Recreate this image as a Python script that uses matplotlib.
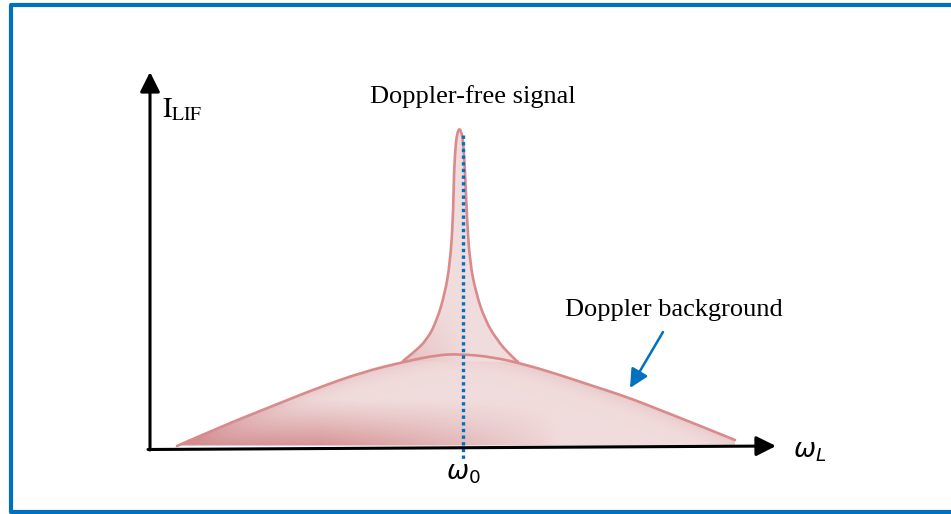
import numpy as np
import matplotlib.pyplot as plt
from matplotlib.patches import FancyArrowPatch, PathPatch
from matplotlib.path import Path
from matplotlib.lines import Line2D

# Doppler-broadened background (detuning from omega_0, LIF intensity, arb. units)
bg_detuning = [-2.84, -2.41, -1.91, -1.41, -0.98, -0.58, -0.24, -0.01,
               0.32, 0.66, 0.99, 1.32, 1.66, 1.99, 2.32, 2.74]
bg_intensity = [0.03, 0.22, 0.42, 0.62, 0.77, 0.87, 0.94, 0.95,
                0.92, 0.84, 0.74, 0.63, 0.52, 0.39, 0.26, 0.09]

# Doppler-free (saturated) peak sitting on top of the background
peak_detuning = [-0.58, -0.48, -0.34, -0.24, -0.16, -0.11, -0.08, -0.07, -0.05,
                 -0.035, -0.02, -0.005, 0.01, 0.02, 0.04, 0.06, 0.09, 0.15,
                 0.24, 0.36, 0.49, 0.57]
peak_intensity = [0.88, 0.96, 1.09, 1.29, 1.56, 1.86, 2.29, 2.79, 3.09,
                  3.16, 3.20, 3.19, 3.14, 3.09, 2.79, 2.29, 1.86, 1.56,
                  1.29, 1.09, 0.94, 0.87]

omega0 = 0.0
base_level = 0.035

title_text = "Doppler-free signal"
bg_text = "Doppler background"

plt.rcParams['font.family'] = ['Liberation Serif', 'DejaVu Serif']


def smooth_path(xs, ys, close_to=None):
    # quadratic bezier chain: inner points act as control points
    pts = np.column_stack([xs, ys])
    verts = [pts[0]]
    codes = [Path.MOVETO]
    for i in range(1, len(pts) - 1):
        end = pts[i + 1] if i == len(pts) - 2 else (pts[i] + pts[i + 1]) / 2
        verts += [pts[i], end]
        codes += [Path.CURVE3, Path.CURVE3]
    if close_to is not None:
        for p in close_to:
            verts.append(p)
            codes.append(Path.LINETO)
        verts.append(pts[0])
        codes.append(Path.CLOSEPOLY)
    return Path(verts, codes)


fig = plt.figure(figsize=(9.51, 5.14), dpi=100)
ax = fig.add_axes([0, 0, 1, 1])
ax.set_xlim(-4.61, 4.90)
ax.set_ylim(-0.65, 4.49)
ax.axis('off')

line_col = '#d98a8c'
light = np.array([0.945, 0.865, 0.865])
dark = np.array([0.83, 0.56, 0.57])

# shading of the background area
gx = np.linspace(-3.0, 3.0, 500)
gy = np.linspace(0.0, 3.3, 400)
X, Y = np.meshgrid(gx, gy)
top = np.interp(X, bg_detuning, bg_intensity)
t_bg = np.clip((0.5 - Y) / 0.5, 0, 1) ** 1.1 * np.clip((1.0 - X) / 2.4, 0, 1) ** 0.8
t_bg += 0.28 * np.exp(-np.clip(top - Y, 0, None) / 0.08)
t_bg = np.clip(t_bg, 0, 1)
rgb_bg = light * (1 - t_bg[..., None]) + dark * t_bg[..., None]

bg_clip = PathPatch(smooth_path(bg_detuning, bg_intensity,
                                close_to=[(bg_detuning[-1], base_level),
                                          (bg_detuning[0], base_level)]),
                    facecolor='none', edgecolor='none')
ax.add_patch(bg_clip)
im = ax.imshow(rgb_bg, extent=(gx[0], gx[-1], gy[0], gy[-1]), origin='lower',
               aspect='auto', zorder=1, interpolation='bilinear')
im.set_clip_path(bg_clip)

# shading of the narrow peak
t_pk = 0.4 * np.clip((1.5 - Y) / 0.7, 0, 1) * np.clip((0.1 - X) / 0.6, 0, 1)
rgb_pk = light * (1 - t_pk[..., None]) + dark * t_pk[..., None]
pk_clip = PathPatch(smooth_path(peak_detuning, peak_intensity,
                                close_to=[(peak_detuning[-1], peak_intensity[-1])]),
                    facecolor='none', edgecolor='none')
ax.add_patch(pk_clip)
im2 = ax.imshow(rgb_pk, extent=(gx[0], gx[-1], gy[0], gy[-1]), origin='lower',
                aspect='auto', zorder=2, interpolation='bilinear')
im2.set_clip_path(pk_clip)

ax.add_patch(PathPatch(smooth_path(bg_detuning, bg_intensity), facecolor='none',
                       edgecolor=line_col, lw=1.9, zorder=3, capstyle='round'))
ax.add_patch(PathPatch(smooth_path(peak_detuning, peak_intensity), facecolor='none',
                       edgecolor=line_col, lw=1.9, zorder=3, capstyle='round'))

# line at the resonance frequency
ax.plot([omega0 + 0.02, omega0 + 0.02], [3.14, -0.11], color='#0070c0', lw=2.4,
        dashes=(1, 1), dash_capstyle='butt', zorder=4)

# axes arrows
ax.add_patch(FancyArrowPatch((-3.11, -0.01), (-3.11, 3.77),
                             arrowstyle='-|>,head_length=0.6,head_width=0.3',
                             mutation_scale=20, lw=2.2, color='black',
                             shrinkA=0, shrinkB=0, zorder=5))
ax.add_patch(FancyArrowPatch((-3.13, -0.005), (3.15, 0.03),
                             arrowstyle='-|>,head_length=0.6,head_width=0.3',
                             mutation_scale=20, lw=2.2, color='black',
                             shrinkA=0, shrinkB=0, zorder=5))

# pointer to the background curve
ax.add_patch(FancyArrowPatch((2.02, 1.17), (1.69, 0.61),
                             arrowstyle='-|>,head_length=0.8,head_width=0.4',
                             mutation_scale=14, lw=1.8, color='#0070c0',
                             shrinkA=0, shrinkB=0, zorder=5))

# labels
ax.text(0.12, 3.52, title_text, fontsize=19, ha='center', va='center')
ax.text(2.13, 1.39, bg_text, fontsize=19, ha='center', va='center')
ax.text(-2.99, 3.39, r'$\mathrm{I}_{\mathrm{LIF}}$', fontsize=20, ha='left',
        va='center', math_fontfamily='stix')
ax.text(3.32, -0.03, r'$\omega_L$', fontsize=19, ha='left', va='center',
        math_fontfamily='dejavusans')
ax.text(0.02, -0.25, r'$\omega_0$', fontsize=19, ha='center', va='center',
        math_fontfamily='dejavusans')

# blue frame (open on the right side)
frame = dict(color='#0070c0', lw=3, solid_capstyle='projecting', clip_on=False, zorder=6)
ax.add_line(Line2D([4.95, -4.505, -4.505, 4.95], [4.44, 4.44, -0.625, -0.625], **frame))

fig.savefig('out.png', dpi=100)
